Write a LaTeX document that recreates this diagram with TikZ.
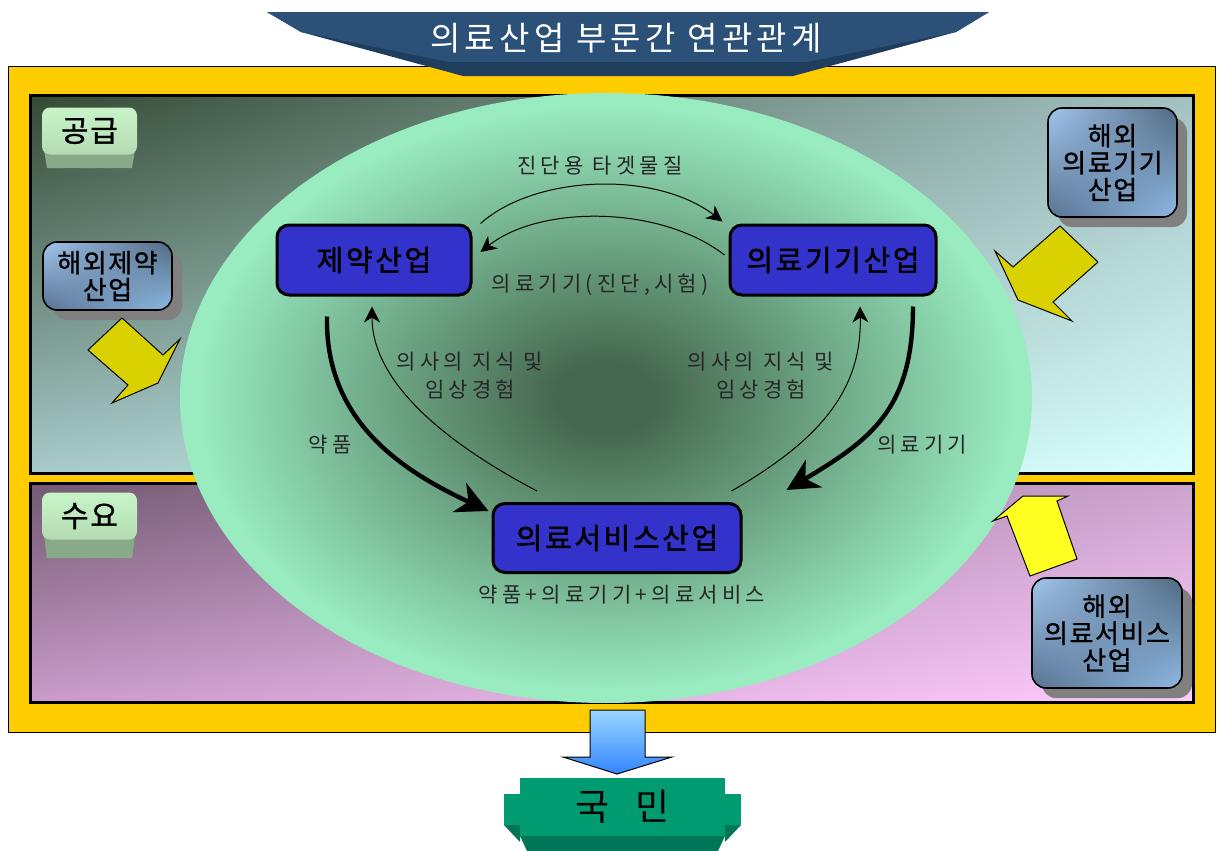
\documentclass[tikz,border=0pt]{standalone}
\usepackage{fontspec}
\setmainfont{Noto Sans CJK KR}
\newfontfamily\widefont[LetterSpace=20]{Noto Sans CJK KR}
\newfontfamily\boxfont[LetterSpace=9,FakeBold=1.5]{Noto Sans CJK KR}
\newfontfamily\headfont[LetterSpace=13]{Noto Sans CJK KR}
\newfontfamily\capfont[LetterSpace=6,FakeBold=1]{Noto Sans CJK KR}
\usetikzlibrary{arrows.meta,shadows,shadings,positioning}

\definecolor{frameyellow}{HTML}{FFCC00}
\definecolor{titleblue}{HTML}{2B5178}
\definecolor{titledark}{HTML}{1F3D5C}
\definecolor{boxblue}{HTML}{3333CC}
\definecolor{mint}{HTML}{99EBC0}
\definecolor{deepgreen}{HTML}{466850}
\definecolor{arrowolive}{HTML}{D9D200}
\definecolor{arrowyellow}{HTML}{FFFF22}
\definecolor{nationgreen}{HTML}{009B70}
\definecolor{nationdark}{HTML}{007656}
\definecolor{capmint}{HTML}{C8F4C8}
\definecolor{capshade}{HTML}{6A8A6A}
\definecolor{capside}{HTML}{88AA88}
\definecolor{steellight}{HTML}{A2C6EE}
\definecolor{steeldark}{HTML}{506880}
\definecolor{steelmid}{HTML}{587290}
\definecolor{steelpale}{HTML}{8EBAE4}

\pgfdeclareradialshading{glow}{\pgfpoint{0bp}{0bp}}{color(0bp)=(deepgreen); color(3bp)=(deepgreen); color(24bp)=(mint); color(50bp)=(mint)}

\begin{document}
\begin{tikzpicture}[x=0.5pt,y=-0.5pt,
    indbox/.style={draw, line width=1.5pt, rounded corners=6pt, fill=boxblue,
      minimum height=35pt, inner sep=2pt, font=\boxfont\fontsize{14.5}{16}\selectfont},
    flowlabel/.style={align=center, inner sep=1pt, text=black!85,
      font=\widefont\fontsize{10.5}{14}\selectfont},
    keycap/.style={rounded corners=4pt, minimum width=47.5pt, minimum height=23.5pt,
      top color=capmint, middle color=capshade, bottom color=capmint!90!black,
      font=\capfont\fontsize{15}{16}\selectfont},
    abroad/.style={draw, line width=0.8pt, rounded corners=7pt, align=center, inner sep=1pt,
      upper left=steellight, upper right=steeldark,
      lower left=steelmid, lower right=steelpale,
      drop shadow={shadow xshift=5pt, shadow yshift=-5pt, fill=black!50, opacity=1},
      font=\capfont\fontsize{13}{13.5}\selectfont},
    flow/.style={-{Stealth[length=8pt,width=8pt,inset=2.5pt]}, line width=0.5pt},
    bigflow/.style={-{Stealth[length=16pt,width=16pt,inset=5pt]}, line width=2.2pt},
    bentarrow/.style={draw, line width=0.5pt, line join=miter}]
\useasboundingbox (0,0) rectangle (1217,851);

% frame and the two panels
\draw[fill=frameyellow, line width=0.5pt] (8,66) rectangle (1215,732);
\shade[draw, line width=1.5pt, upper left=black!85!green!60!gray, upper right=cyan!20!gray!60,
  lower left=cyan!25!gray!55, lower right=cyan!15!white] (30,95) rectangle (1193,473);
\shade[draw, line width=1.5pt, upper left=magenta!15!black!65, upper right=magenta!30!gray!55,
  lower left=magenta!30!gray!60, lower right=magenta!20!white] (30,483) rectangle (1193,702);

% the glowing field
\shade[shading=glow] (606,398) ellipse [x radius=426, y radius=305];

% title ribbon
\fill[titledark] (267,12) -- (989,12) -- (956,32) -- (793,76) -- (463,76) -- (301,32) -- cycle;
\fill[titleblue] (267,12) -- (989,12) -- (956,32) -- (807,62) -- (449,62) -- (301,32) -- cycle;
\node[text=white, font=\headfont\fontsize{16.5}{18}\selectfont] (title) at (626,38) {의료산업 부문간 연관관계};

% supply / demand caps
\fill[capside] (44,150) -- (135,150) -- (132,168) -- (47,168) -- cycle;
\node[keycap] (supply) at (89.5,131) {공급};
\fill[capside] (44,535) -- (135,535) -- (132,558) -- (47,558) -- cycle;
\node[keycap] (demand) at (89.5,516) {수요};

% overseas boxes
\node[abroad, minimum width=64.5pt, minimum height=34pt] (abpharm) at (107.5,276) {해외제약\\산업};
\node[abroad, minimum width=64.5pt, minimum height=54.5pt] (abdevice) at (1112.5,162.5) {해외\\의료기기\\산업};
\node[abroad, minimum width=75pt, minimum height=55pt] (abservice) at (1107,633) {해외\\의료서비스\\산업};

% bent arrows
\filldraw[bentarrow, fill=arrowolive] (122,318) -- (163,355) -- (180,339) -- (158,383) -- (112,403) -- (128,385) -- (88,350) -- cycle;
\filldraw[bentarrow, fill=arrowolive] (1060,226) -- (1098,262) -- (1053,302) -- (1072,321) -- (1018,300) -- (995,251) -- (1013,267) -- cycle;
\filldraw[bentarrow, fill=arrowyellow] (993,521) -- (1023,496) -- (1068,496) -- (1057,501) -- (1077,559) -- (1030,576) -- (1007,516) -- cycle;

% industries
\node[indbox, minimum width=97pt] (pharm) at (374,260) {제약산업};
\node[indbox, minimum width=103pt] (device) at (833,260) {의료기기산업};
\node[indbox, minimum width=124pt, minimum height=34.5pt] (service) at (617,538) {의료서비스산업};

% labels
\node[flowlabel] (target) at (600,166) {진단용 타겟물질};
\node[flowlabel] (testing) at (600,285) {의료기기(진단,시험)};
\node[flowlabel] (knowl) at (470,376) {의사의 지식 및\\임상경험};
\node[flowlabel] (knowr) at (761,376) {의사의 지식 및\\임상경험};
\node[flowlabel] (drug) at (330,445) {약품};
\node[flowlabel] (equip) at (922,445) {의료기기};
\node[flowlabel] (total) at (622,595) {약품+의료기기+의료서비스};

% flows
\draw[flow] ([xshift=4pt]pharm.north east) .. controls (535,175) and (655,170) .. ([xshift=-3pt,yshift=1pt]device.north west);
\draw[flow] ([xshift=-2pt,yshift=2.5pt]device.west) .. controls (660,205) and (540,205) .. ([xshift=4pt,yshift=4pt]pharm.east);
\draw[bigflow] ([xshift=-23.5pt,yshift=-10pt]pharm.south) .. controls (325,420) and (400,470) .. ([xshift=-1.5pt,yshift=-4.5pt]service.north west);
\draw[flow] ([xshift=-40pt,yshift=5.5pt]service.north) .. controls (440,440) and (372,380) .. ([xshift=-1pt,yshift=-5pt]pharm.south);
\draw[bigflow] ([xshift=40pt,yshift=-5pt]device.south) .. controls (913,410) and (870,440) .. ([xshift=22pt,yshift=6pt]service.north east);
\draw[flow] ([xshift=-5.5pt,yshift=5.5pt]service.north east) .. controls (820,440) and (862,390) .. ([xshift=13.5pt,yshift=-5pt]device.south);

% down arrow and nation banner
\shade[draw, line width=0.5pt, top color=blue!40!cyan!40, bottom color=blue!60!cyan!80]
  (590,710) -- (645,710) -- (645,757) -- (672,757) -- (617,774) -- (563,757) -- (590,757) -- cycle;
\fill[nationgreen] (504,794) rectangle (741,825);
\fill[nationdark] (504,825) -- (520,825) -- (520,842) -- cycle;
\fill[nationdark] (741,825) -- (725,825) -- (725,842) -- cycle;
\fill[nationdark] (520,836) -- (725,836) -- (718,851) -- (527,851) -- cycle;
\node[fill=nationgreen, minimum width=102.5pt, minimum height=29pt, font=\fontsize{18.5}{20}\selectfont] (nation) at (622.5,807) {국\hspace{0.7em}민};
\end{tikzpicture}
\end{document}
